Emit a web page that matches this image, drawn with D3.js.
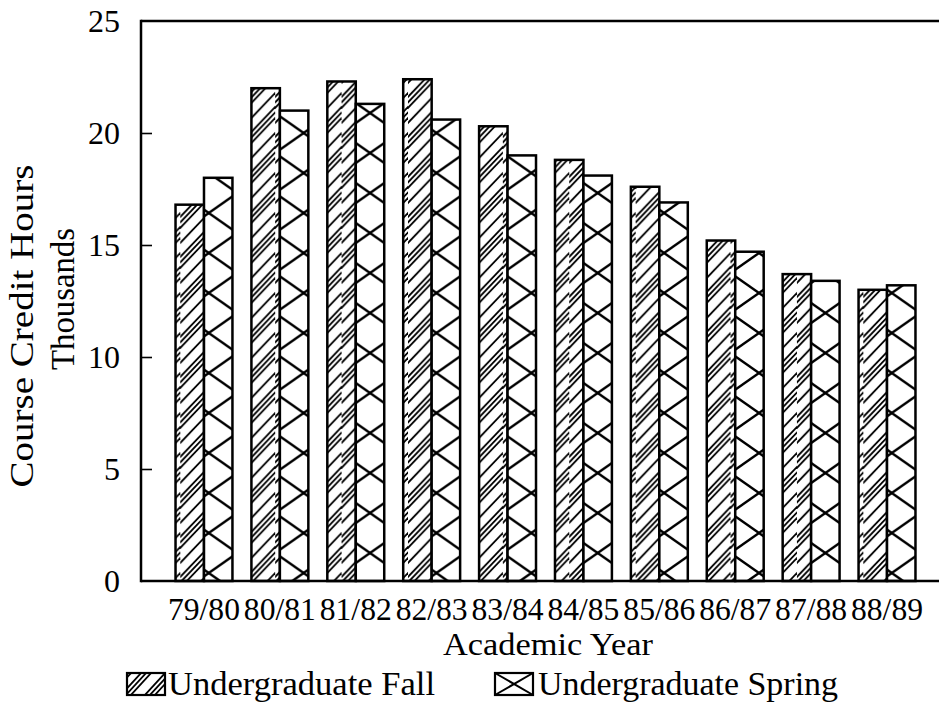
<!DOCTYPE html>
<html>
<head>
<meta charset="utf-8">
<script src="https://cdn.jsdelivr.net/npm/d3@7/dist/d3.min.js"></script>
<style>
  html, body { margin: 0; padding: 0; background: #fff; }
  svg { display: block; }
  text { font-family: "Liberation Serif", "DejaVu Serif", serif; fill: #000; }
</style>
</head>
<body>
<svg id="chart" width="939" height="712"></svg>
<script>
// ---- data ----
const years = ["79/80","80/81","81/82","82/83","83/84","84/85","85/86","86/87","87/88","88/89"];
const fall   = [16.8, 22.0, 22.3, 22.4, 20.3, 18.8, 17.6, 15.2, 13.7, 13.0];
const spring = [18.0, 21.0, 21.3, 20.6, 19.0, 18.1, 16.9, 14.7, 13.4, 13.2];
const seriesNames = ["Undergraduate Fall", "Undergraduate Spring"];
const yTicks = [0, 5, 10, 15, 20, 25];

(function () {
// ---- layout ----
const svg = d3.select("#chart");
const pLeft = 141, pRight = 939, pTop = 21, pBottom = 581;

const y = d3.scaleLinear().domain([0, 25]).range([pBottom, pTop]);
const x0 = d3.scaleBand().domain(years).range([pLeft, 950]).paddingInner(0.25).paddingOuter(0.455);
const x1 = d3.scaleBand().domain(["fall", "spring"]).range([0, x0.bandwidth()]);
const w = x1.bandwidth();
const P = 40;

const defs = svg.append("defs");
const rows = years.map((yr, i) => ({ yr, i, fall: fall[i], spring: spring[i] }));

function addFallPattern(id, px, py, pw) {
  const p = defs.append("pattern").attr("id", id)
    .attr("patternUnits", "userSpaceOnUse")
    .attr("x", px).attr("y", py).attr("width", pw).attr("height", P);
  p.append("rect").attr("width", pw).attr("height", P).attr("fill", "#fff");
  const s = 1.05;
  const drop = s * pw;
  const offs = [0, 5.5, 11, 26];
  [-2, -1, 0, 1].forEach(k => {
    offs.forEach(o => {
      const yy = k * P + o + drop;
      p.append("line").attr("x1", -1).attr("y1", yy + s)
        .attr("x2", pw + 1).attr("y2", yy - drop - s)
        .attr("stroke", "#000").attr("stroke-width", 1.8);
    });
  });
}
function addSpringPattern(id, px, py, pw) {
  const W = 2 * pw;
  const p = defs.append("pattern").attr("id", id)
    .attr("patternUnits", "userSpaceOnUse")
    .attr("x", px).attr("y", py).attr("width", W).attr("height", P);
  p.append("rect").attr("width", W).attr("height", P).attr("fill", "#fff");
  p.append("line").attr("x1", 0).attr("y1", 0).attr("x2", W).attr("y2", P)
    .attr("stroke", "#000").attr("stroke-width", 2.4);
  p.append("line").attr("x1", 0).attr("y1", P).attr("x2", W).attr("y2", 0)
    .attr("stroke", "#000").attr("stroke-width", 2.4);
}

rows.forEach(r => {
  const fx = x0(r.yr) + x1("fall");
  const sx = x0(r.yr) + x1("spring");
  addFallPattern("pf" + r.i, fx, pBottom + 6, w);
  addSpringPattern("ps" + r.i, sx, pBottom - 8, w);
});

// bars
const g = svg.append("g");
const groups = g.selectAll("g.grp").data(rows).enter().append("g")
  .attr("transform", d => `translate(${x0(d.yr)},0)`);
groups.append("rect")
  .attr("x", x1("fall")).attr("y", d => y(d.fall))
  .attr("width", w).attr("height", d => y(0) - y(d.fall))
  .attr("fill", d => `url(#pf${d.i})`).attr("stroke", "#000").attr("stroke-width", 2.5);
groups.append("rect")
  .attr("x", x1("spring")).attr("y", d => y(d.spring))
  .attr("width", w).attr("height", d => y(0) - y(d.spring))
  .attr("fill", d => `url(#ps${d.i})`).attr("stroke", "#000").attr("stroke-width", 2.5);

// frame
svg.append("line").attr("x1", pLeft).attr("x2", pRight).attr("y1", pTop).attr("y2", pTop)
  .attr("stroke", "#000").attr("stroke-width", 2.5);
svg.append("line").attr("x1", pLeft).attr("x2", pRight).attr("y1", pBottom).attr("y2", pBottom)
  .attr("stroke", "#000").attr("stroke-width", 2.5);
svg.append("line").attr("x1", pLeft).attr("x2", pLeft).attr("y1", pTop - 1.2).attr("y2", pBottom + 1.2)
  .attr("stroke", "#000").attr("stroke-width", 2.5);

// y axis
const yAxis = d3.axisRight(y).tickValues(yTicks).tickSize(11).tickFormat("");
const ya = svg.append("g").attr("transform", `translate(${pLeft},0)`).call(yAxis);
ya.select(".domain").remove();
ya.selectAll(".tick line").attr("stroke", "#000").attr("stroke-width", 1.6)
  .filter(d => d === 0 || d === 25).remove();
svg.append("g").selectAll("text").data(yTicks).enter().append("text")
  .attr("x", 120).attr("y", d => y(d)).attr("dy", "0.33em")
  .attr("text-anchor", "end").attr("font-size", 32).text(d => d);

// x labels
svg.append("g").selectAll("text").data(years).enter().append("text")
  .attr("x", d => x0(d) + x0.bandwidth() / 2).attr("y", 620)
  .attr("text-anchor", "middle").attr("font-size", 31)
  .attr("textLength", 72).attr("lengthAdjust", "spacingAndGlyphs").text(d => d);

svg.append("text").attr("x", 548).attr("y", 655).attr("text-anchor", "middle")
  .attr("font-size", 32).attr("textLength", 210).attr("lengthAdjust", "spacingAndGlyphs")
  .text("Academic Year");

// y titles
svg.append("text").attr("transform", "translate(33,326) rotate(-90)")
  .attr("text-anchor", "middle").attr("font-size", 34)
  .attr("textLength", 323).attr("lengthAdjust", "spacingAndGlyphs")
  .text("Course Credit Hours");
svg.append("text").attr("transform", "translate(74,299) rotate(-90)")
  .attr("text-anchor", "middle").attr("font-size", 33)
  .attr("textLength", 142).attr("lengthAdjust", "spacingAndGlyphs")
  .text("Thousands");

// legend
const lf = defs.append("pattern").attr("id", "legFall").attr("patternUnits", "userSpaceOnUse")
  .attr("x", 127).attr("y", 673).attr("width", 38).attr("height", 22);
lf.append("rect").attr("width", 38).attr("height", 22).attr("fill", "#fff");
[-6, 4, 9, 14, 28, 33, 38].forEach(o => {
  lf.append("line").attr("x1", o - 11).attr("y1", 23).attr("x2", o + 11).attr("y2", -1)
    .attr("stroke", "#000").attr("stroke-width", 1.8);
});
svg.append("rect").attr("x", 127).attr("y", 673).attr("width", 38).attr("height", 22)
  .attr("fill", "url(#legFall)").attr("stroke", "#000").attr("stroke-width", 2.2);
svg.append("text").attr("x", 168).attr("y", 695).attr("font-size", 33)
  .attr("textLength", 267).attr("lengthAdjust", "spacingAndGlyphs").text(seriesNames[0]);

svg.append("rect").attr("x", 495).attr("y", 673).attr("width", 38).attr("height", 22)
  .attr("fill", "#fff").attr("stroke", "#000").attr("stroke-width", 2.2);
svg.append("line").attr("x1", 495).attr("y1", 673).attr("x2", 533).attr("y2", 695)
  .attr("stroke", "#000").attr("stroke-width", 2);
svg.append("line").attr("x1", 495).attr("y1", 695).attr("x2", 533).attr("y2", 673)
  .attr("stroke", "#000").attr("stroke-width", 2);
svg.append("text").attr("x", 538).attr("y", 695).attr("font-size", 33)
  .attr("textLength", 300).attr("lengthAdjust", "spacingAndGlyphs").text(seriesNames[1]);
})();
</script>
</body>
</html>
